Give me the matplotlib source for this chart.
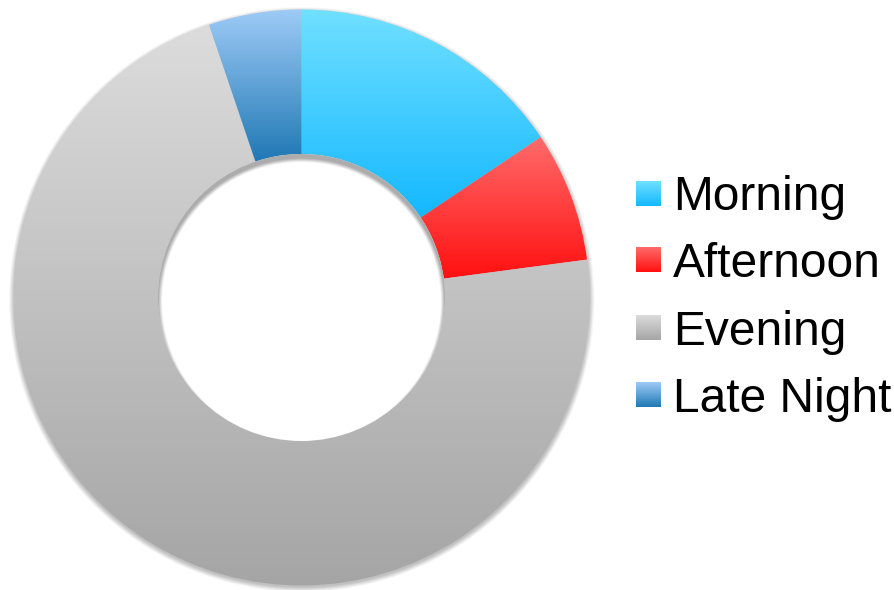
import numpy as np
import matplotlib
matplotlib.use("Agg")
import matplotlib.pyplot as plt
from matplotlib.patches import Circle
from matplotlib.colors import to_rgb

# Share of activity by time of day (percent)
categories = ["Morning", "Afternoon", "Evening", "Late Night"]
shares = [15.6, 7.3, 71.9, 5.2]

# Vertical gradient per slice: (top colour, bottom colour)
grad_top = ["#70e0ff", "#ff6b6b", "#dcdcdc", "#9ecbf7"]
grad_bottom = ["#14b8ff", "#ff1010", "#a5a5a5", "#1f78b4"]

W, H = 895, 590
fig = plt.figure(figsize=(W / 100, H / 100), dpi=100)
ax = fig.add_axes([0, 0, 1, 1])

cx, cy = 301.5, H - 297.5
r_out, r_in = 288.0, 143.5


def gradient_image(top, bottom, n=256):
    t = np.linspace(0, 1, n)[:, None]
    c0 = np.array(to_rgb(top))
    c1 = np.array(to_rgb(bottom))
    arr = c0 * (1 - t) + c1 * t
    return arr[:, None, :].repeat(2, axis=1)


# soft drop shadow around the outer rim
ext = 14
xs = np.linspace(cx - r_out - ext, cx + r_out + ext, 700)
ys = np.linspace(cy - r_out - ext, cy + r_out + ext, 700)
X, Y = np.meshgrid(xs, ys)
d = np.hypot(X - cx, Y - (cy - 2.0)) - r_out
alpha = np.clip(1 - d / 5.0, 0, 1) * 0.25
alpha[d < 0] = 0.25
shadow = np.zeros(X.shape + (4,))
shadow[..., 3] = alpha
ax.imshow(shadow, extent=(xs[0], xs[-1], ys[0], ys[-1]), origin="lower",
          interpolation="bilinear", zorder=1)

wedges, _ = ax.pie(shares, radius=r_out, center=(cx, cy), startangle=90,
                   counterclock=False, frame=True,
                   wedgeprops=dict(width=r_out - r_in, linewidth=0))

for w, top, bot in zip(wedges, grad_top, grad_bottom):
    w.set_facecolor("none")
    w.set_edgecolor("none")
    w.set_zorder(2)
    bb = w.get_path().get_extents()
    im = ax.imshow(gradient_image(top, bot), aspect="auto",
                   extent=(bb.x0, bb.x1, bb.y0, bb.y1), origin="upper",
                   interpolation="bilinear", zorder=2)
    im.set_clip_path(w)

# white hole with an inner shadow along its upper edge
hole = Circle((cx, cy), r_in, facecolor="white", edgecolor="none", zorder=3)
ax.add_patch(hole)
hx = np.linspace(cx - r_in, cx + r_in, 500)
hy = np.linspace(cy - r_in, cy + r_in, 500)
HX, HY = np.meshgrid(hx, hy)
s = r_in - np.hypot(HX - cx, HY - (cy - 4.0))
ha = np.clip(1 - s / 4.0, 0, 1) * 0.5
inner = np.zeros(HX.shape + (4,))
inner[..., :3] = 0.35
inner[..., 3] = ha
im = ax.imshow(inner, extent=(hx[0], hx[-1], hy[0], hy[-1]), origin="lower",
               interpolation="bilinear", zorder=4)
im.set_clip_path(hole)

# legend
leg_x, box = 636, 25
baselines = [210, 276.7, 344.5, 411.5]
for name, top, bot, base in zip(categories, grad_top, grad_bottom, baselines):
    yc = H - (base - 17)
    ax.imshow(gradient_image(top, bot), aspect="auto",
              extent=(leg_x, leg_x + box, yc - box / 2, yc + box / 2),
              origin="upper", interpolation="bilinear", zorder=5)
    ax.text(673, H - base, name, fontsize=34.5, family="Liberation Sans",
            va="baseline", ha="left", color="black", zorder=5)

ax.set_xlim(0, W)
ax.set_ylim(0, H)
ax.set_aspect("equal")
ax.axis("off")
fig.savefig("out.png", dpi=100)
